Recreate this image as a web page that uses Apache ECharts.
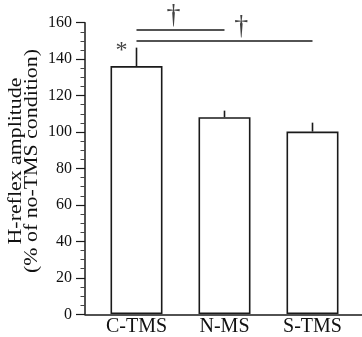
<!DOCTYPE html>
<html>
<head>
<meta charset="utf-8">
<script src="https://cdn.jsdelivr.net/npm/echarts@6/dist/echarts.min.js"></script>
<style>
  html, body { margin: 0; padding: 0; background: #fff; }
  #chart { width: 362px; height: 337px; }
</style>
</head>
<body>
<div id="chart"></div>
<script>
// ---- data ----
const categories = ['C-TMS', 'N-MS', 'S-TMS'];
const means = [136.2, 108.1, 100.2];
const errors = [10.1, 3.6, 4.9];
const yMin = 0, yMax = 160, yInterval = 20;
// significance brackets (category index from, to, level)
const sigFrom = [0, 0];
const sigTo = [1, 2];
const sigLevel = [156, 150];
const sigMarkX = [0.42, 1.19];
const sigMarkText = ['†', '†'];
const starX = [-0.17];
const starY = [144.8];
const starText = ['*'];
const yTitle = ['H-reflex amplitude', '(% of no-TMS condition)'];

const FONT = 'Liberation Serif';
const INK = '#1a1a1a';

const chart = echarts.init(document.getElementById('chart'), null, { renderer: 'canvas' });

const sigSeries = sigFrom.map((f, i) => ({
  type: 'line',
  xAxisIndex: 1, yAxisIndex: 1,
  data: [[f, sigLevel[i]], [sigTo[i], sigLevel[i]]],
  symbol: 'none',
  lineStyle: { color: INK, width: 1.5 },
  silent: true, animation: false
}));

const option = {
  animation: false,
  backgroundColor: '#fff',
  grid: [
    { left: 92.5, right: 5.5, top: 22.7, bottom: 22.7 },
    { left: 85, right: 0, top: 22.7, bottom: 22.7 }
  ],
  xAxis: [
    {
      type: 'category', gridIndex: 0, data: categories,
      axisLine: { show: false }, axisTick: { show: false },
      axisLabel: { color: '#111', fontFamily: FONT, fontSize: 20, margin: 3 }
    },
    {
      type: 'value', gridIndex: 1, min: -0.585, max: 2.5625,
      axisLine: { show: true, onZero: false, lineStyle: { color: INK, width: 1.5 } },
      axisTick: { show: false }, axisLabel: { show: false }, splitLine: { show: false }
    }
  ],
  yAxis: [
    { type: 'value', gridIndex: 0, min: yMin, max: yMax, interval: yInterval, show: false },
    {
      type: 'value', gridIndex: 1, min: yMin, max: yMax, interval: yInterval,
      axisLine: { show: true, onZero: false, lineStyle: { color: INK, width: 1.5 } },
      axisTick: { show: true, length: 9, lineStyle: { color: INK, width: 1.2 } },
      minorTick: { show: true, splitNumber: 4, length: 4.5, lineStyle: { color: '#444', width: 1 } },
      axisLabel: { color: '#111', fontFamily: FONT, fontSize: 16, margin: 13 },
      splitLine: { show: false }
    }
  ],
  graphic: [{
    type: 'text',
    x: 24, y: 161,
    rotation: Math.PI / 2,
    scaleX: 1.15,
    style: {
      text: yTitle.join('\n'),
      font: '19px "Liberation Serif"',
      fill: '#111',
      align: 'center',
      verticalAlign: 'middle',
      lineHeight: 16
    }
  }],
  series: [
    {
      type: 'bar', xAxisIndex: 0, yAxisIndex: 0,
      data: means, barWidth: 52,
      itemStyle: { color: '#fff', borderColor: INK, borderWidth: 1.6 },
      silent: true
    },
    {
      type: 'custom', xAxisIndex: 0, yAxisIndex: 0,
      data: means.map((m, i) => [i, m, m + errors[i]]),
      renderItem: function (params, api) {
        const p1 = api.coord([api.value(0), api.value(1)]);
        const p2 = api.coord([api.value(0), api.value(2)]);
        return {
          type: 'line',
          shape: { x1: p1[0], y1: p1[1], x2: p2[0], y2: p2[1] },
          style: { stroke: INK, lineWidth: 1.6 }
        };
      },
      silent: true, z: 3
    },
    ...sigSeries,
    {
      type: 'scatter', xAxisIndex: 1, yAxisIndex: 1,
      data: sigMarkX.map((x, i) => ({ value: [x, sigLevel[i]], label: { formatter: sigMarkText[i] } })),
      symbolSize: 0, clip: false,
      label: { show: true, position: 'top', distance: 0, color: '#111', fontFamily: FONT, fontSize: 28 },
      silent: true
    },
    {
      type: 'scatter', xAxisIndex: 1, yAxisIndex: 1,
      data: starX.map((x, i) => ({ value: [x, starY[i]], label: { formatter: starText[i] } })),
      symbolSize: 0, clip: false,
      label: { show: true, position: 'inside', color: '#111', fontFamily: FONT, fontSize: 24 },
      silent: true
    }
  ]
};
chart.setOption(option);
</script>
</body>
</html>
